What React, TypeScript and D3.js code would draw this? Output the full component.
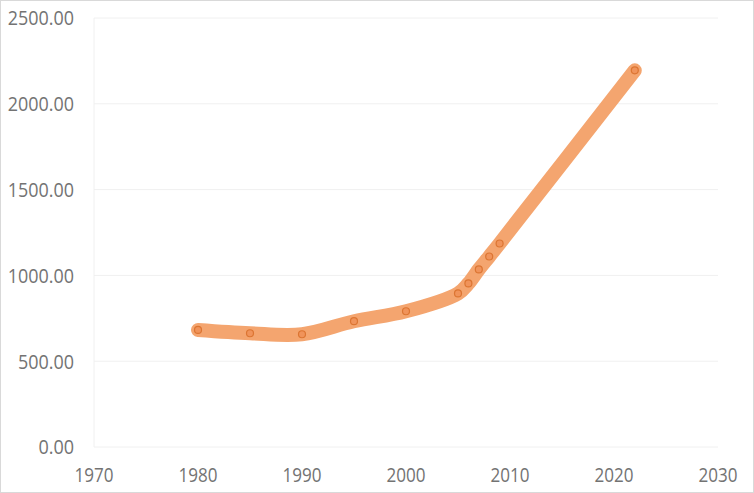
import React from "react";
import * as d3 from "d3";

const years = [1980, 1985, 1990, 1995, 2000, 2005, 2006, 2007, 2008, 2009, 2022];
const values = [682, 663, 657, 733, 791, 895, 953, 1035, 1110, 1186, 2195];
const xTicks = [1970, 1980, 1990, 2000, 2010, 2020, 2030];
const yTicks = [0, 500, 1000, 1500, 2000, 2500];

const W = 754;
const H = 493;

export default function App() {
  const x = d3.scaleLinear().domain([1970, 2030]).range([94, 718]);
  const y = d3.scaleLinear().domain([0, 2500]).range([447, 18]);
  const pts: [number, number][] = years.map((yr, i) => [x(yr), y(values[i])]);
  const line = d3.line().curve(d3.curveCatmullRom.alpha(0.5))(pts) || "";
  const font = "'Open Sans', 'Noto Sans', sans-serif";
  const fs = 20.5;
  return (
    <div style={{ position: "absolute", left: 0, top: 0 }}>
      <svg width={W} height={H} style={{ display: "block" }}>
        <rect x={0.5} y={0.5} width={W - 1} height={H - 1} fill="#fff" stroke="#d9d9d9" />
        {yTicks.map((t) => (
          <line key={"g" + t} x1={x(1970)} x2={x(2030)} y1={y(t)} y2={y(t)} stroke="#f0f0f0" strokeWidth={1} />
        ))}
        <line x1={x(1970)} x2={x(1970)} y1={y(2500)} y2={y(0)} stroke="#f0f0f0" strokeWidth={1} />
        {yTicks.map((t) => {
          const s = t.toFixed(2);
          return (
            <text key={"y" + t} x={74} y={y(t)} dy="0.36em" textAnchor="end" fontFamily={font} fontSize={fs} fill="#737373"
              textLength={(s.length - 1) * 10.2 + 5} lengthAdjust="spacingAndGlyphs">
              {s}
            </text>
          );
        })}
        {xTicks.map((t) => (
          <text key={"x" + t} x={x(t)} y={474.5} dy="0.36em" textAnchor="middle" fontFamily={font} fontSize={fs} fill="#737373"
            textLength={39} lengthAdjust="spacingAndGlyphs">
            {t}
          </text>
        ))}
        <path d={line} fill="none" stroke="#f4a56f" strokeWidth={14} strokeLinecap="round" strokeLinejoin="round" />
        {pts.map(([px, py], i) => (
          <circle key={"p" + i} cx={px} cy={py} r={3.5} fill="#f0935a" stroke="#dc7532" strokeWidth={1.2} />
        ))}
      </svg>
    </div>
  );
}
